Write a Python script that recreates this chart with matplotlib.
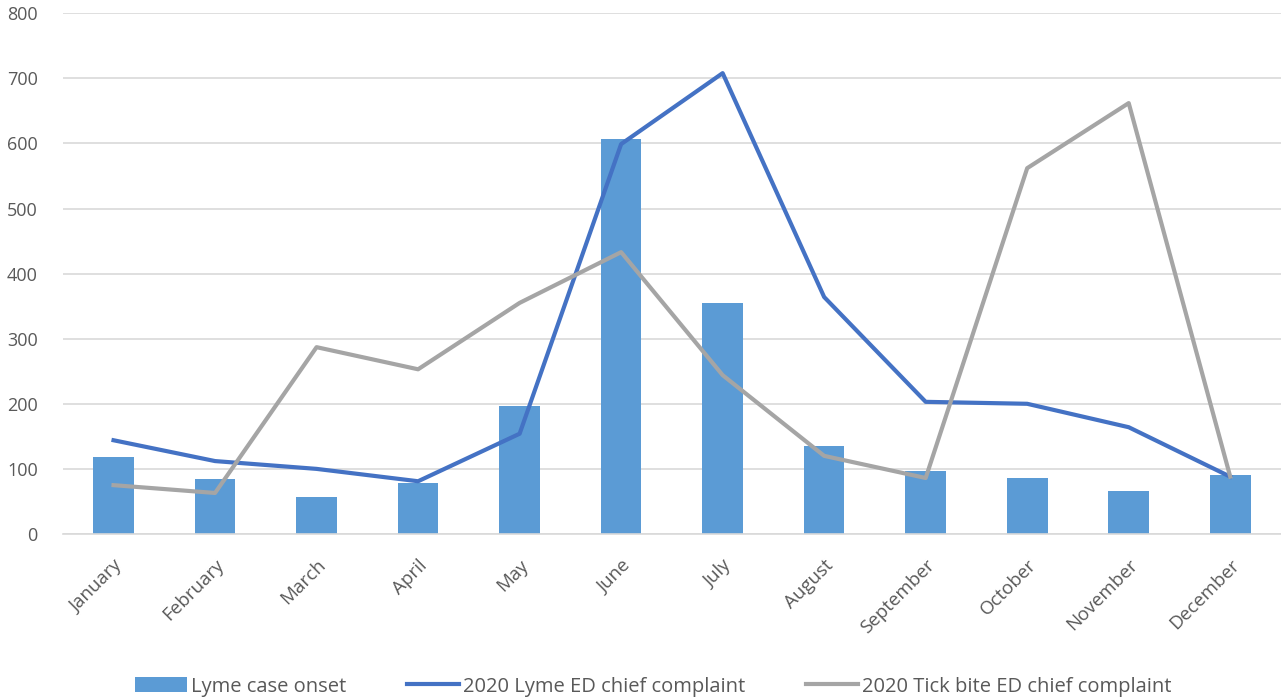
import matplotlib
matplotlib.use("Agg")
import matplotlib.pyplot as plt
import numpy as np

months = ["January", "February", "March", "April", "May", "June",
          "July", "August", "September", "October", "November", "December"]
lyme_onset = [118, 84, 57, 78, 197, 607, 355, 135, 97, 86, 66, 91]
lyme_ed = [144, 112, 100, 81, 154, 599, 708, 364, 203, 200, 164, 88]
tick_ed = [75, 63, 287, 253, 355, 433, 244, 120, 86, 562, 662, 88]
y_ticks = [0, 100, 200, 300, 400, 500, 600, 700, 800]

plt.rcParams['font.family'] = ['Open Sans', 'DejaVu Sans']
text_color = "#595959"

fig = plt.figure(figsize=(12.81, 6.98), dpi=100)
ax = fig.add_axes([0.049, 0.235, 0.951, 0.746])

x = np.arange(len(months))
bars = ax.bar(x, lyme_onset, width=0.4, color="#5B9BD5", label="Lyme case onset", zorder=2)
l1, = ax.plot(x, lyme_ed, color="#4472C4", lw=3, label="2020 Lyme ED chief complaint", zorder=3)
l2, = ax.plot(x, tick_ed, color="#A5A5A5", lw=3, label="2020 Tick bite ED chief complaint", zorder=3)

ax.set_xlim(-0.5, len(months) - 0.5)
ax.set_ylim(0, 800)
ax.set_yticks(y_ticks)
ax.set_yticklabels([str(v) for v in y_ticks], fontsize=13, color=text_color)
ax.yaxis.grid(True, color="#D9D9D9", lw=1.2, zorder=0)
ax.set_axisbelow(True)
for s in ["top", "right", "left"]:
    ax.spines[s].set_visible(False)
ax.spines["bottom"].set_color("#D9D9D9")
ax.spines["bottom"].set_linewidth(1.2)
ax.tick_params(axis="both", length=0)
ax.tick_params(axis="y", pad=18)

ax.set_xticks(x)
ax.set_xticklabels(months, rotation=45, ha="right", rotation_mode="anchor",
                   fontsize=13.5, color=text_color)
ax.tick_params(axis="x", pad=16)

leg = fig.legend([bars, l1, l2],
                 ["Lyme case onset", "2020 Lyme ED chief complaint",
                  "2020 Tick bite ED chief complaint"],
                 loc="lower center", bbox_to_anchor=(0.51, -0.024), ncol=3,
                 frameon=False, fontsize=14.5, handlelength=2.6, handleheight=0.8,
                 columnspacing=3.0, handletextpad=0.2)
for t in leg.get_texts():
    t.set_color(text_color)

fig.savefig("out.png", dpi=100)
